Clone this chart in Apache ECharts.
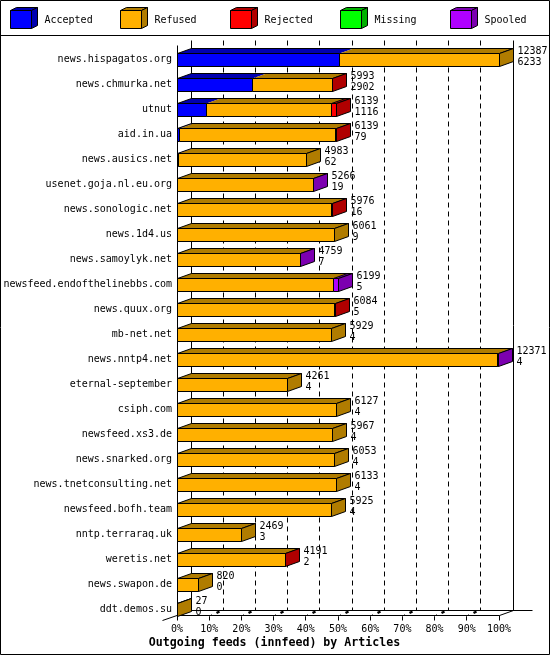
<!DOCTYPE html>
<html><head><meta charset="utf-8"><style>html,body{margin:0;padding:0;background:#fff}#c{width:550px;height:655px}</style>
<script src="https://cdn.jsdelivr.net/npm/echarts@6/dist/echarts.min.js"></script></head>
<body><div id="c"></div><script>
const categories=["news.hispagatos.org","news.chmurka.net","utnut","aid.in.ua","news.ausics.net","usenet.goja.nl.eu.org","news.sonologic.net","news.1d4.us","news.samoylyk.net","newsfeed.endofthelinebbs.com","news.quux.org","mb-net.net","news.nntp4.net","eternal-september","csiph.com","newsfeed.xs3.de","news.snarked.org","news.tnetconsulting.net","newsfeed.bofh.team","nntp.terraraq.uk","weretis.net","news.swapon.de","ddt.demos.su"];
const totals=[12387,5993,6139,6139,4983,5266,5976,6061,4759,6199,6084,5929,12371,4261,6127,5967,6053,6133,5925,2469,4191,820,27];
const accepted=[6233,2902,1116,79,62,19,16,9,7,5,5,4,4,4,4,4,4,4,4,3,2,0,0];
const refused=[6154,3061,4835,6020,4921,5232,5930,6052,4732,6013,6049,5925,12337,4257,6123,5963,6049,6129,5921,2466,4159,820,27];
const rejected=[0,30,188,40,0,0,30,0,0,0,30,0,0,0,0,0,0,0,0,0,30,0,0];
const missing=[0,0,0,0,0,0,0,0,0,0,0,0,0,0,0,0,0,0,0,0,0,0,0];
const spooled=[0,0,0,0,0,15,0,0,20,181,0,0,30,0,0,0,0,0,0,0,0,0,0];
const legendNames=["Accepted","Refused","Rejected","Missing","Spooled"];
const faceColors=["#0000ff","#ffb000","#ff0000","#00ff00","#b000ff"];
const shadeColors=["#0000b0","#b07c00","#b00000","#00b000","#7c00b0"];
const tickPercents=[0,10,20,30,40,50,60,70,80,90,100];
const titleText="Outgoing feeds (innfeed) by Articles";
const axisMax=12387;
const FONT='"DejaVu Sans Mono"',DX=14,DY=5,HALF=6;
const px=v=>Math.round(v-0.5)+0.5;
const line=(pts,extra)=>({type:'polyline',shape:{points:pts},style:Object.assign({stroke:'#000',lineWidth:1,fill:null},extra||{}),silent:true});
const poly=(pts,fill)=>({type:'polygon',shape:{points:pts},style:{fill:fill,stroke:'#000',lineWidth:1},silent:true});

const rows=categories.map((c,i)=>[i,accepted[i],refused[i],rejected[i],missing[i],spooled[i],totals[i]]);

function renderFrame(params,api){
  const p=api.value(0);
  const v=p/100*axisMax;
  const pt=api.coord([v,categories.length-1]);
  const x=px(pt[0]),yF=pt[1]+HALF,yB=yF-DY;
  const top=api.coord([0,0])[1]-HALF;
  const ch=[];
  if(p===0){
    ch.push(line([[x,top-8],[x,yF+5]]));
    ch.push(line([[x+DX,top-13],[x+DX,yB]]));
    ch.push(line([[x-15,yF+5],[x+DX,yB]]));
    ch.push(line([[x,yF],[px(api.coord([axisMax,0])[0]),yF]]));
    ch.push(line([[x+DX,yB],[x+355,yB]]));
  } else if(p===100){
    ch.push(line([[x,yF],[x,yF+5]]));
    ch.push(line([[x,yF],[x+DX,yB]]));
    ch.push(line([[x+DX,top-13],[x+DX,yB]]));
  } else {
    ch.push(line([[x+DX,top-13],[x+DX,yB]],{lineDash:[5,4]}));
    ch.push(line([[x,yF+5],[x,yF+1],[x+2,yF-1]]));
    ch.push(line([[x+7,yF-2.5],[x+10,yF-4]],{lineWidth:2.5}));
  }
  return {type:'group',children:ch};
}

function renderRow(params,api){
  const i=api.value(0);
  const c=api.coord([0,i]);
  const yT=c[1]-HALF,yBt=c[1]+HALF+1;
  const ch=[];
  let cum=0,last=1;
  const segs=[];
  for(let s=0;s<5;s++){
    const val=api.value(s+1);
    if(val>0){
      const a=px(api.coord([cum,i])[0]);
      cum+=val;
      const b=px(api.coord([cum,i])[0]);
      segs.push({a,b,s});
      last=s;
    }
  }
  const start=segs[0].a,e=segs[segs.length-1].b;
  segs.forEach(g=>{
    ch.push({type:'polygon',shape:{points:[[g.a,yT],[g.a+DX,yT-DY],[g.b+DX,yT-DY],[g.b,yT]]},style:{fill:shadeColors[g.s],stroke:null},silent:true});
  });
  ch.push(poly([[start,yT],[start+DX,yT-DY],[e+DX,yT-DY],[e,yT]],'transparent'));
  segs.slice(1).forEach(g=>{
    if(g.s>1&&g.b-g.a>=3) ch.push(line([[g.a,yT],[g.a+DX,yT-DY]]));
  });
  ch.push(poly([[e,yT],[e+DX,yT-DY],[e+DX,yBt-DY],[e,yBt]],shadeColors[last]));
  segs.forEach(g=>{
    ch.push({type:'rect',shape:{x:g.a,y:yT,width:g.b-g.a,height:yBt-yT},style:{fill:faceColors[g.s],stroke:'#000',lineWidth:1},silent:true});
  });
  const tx=e+DX+4;
  [[api.value(6),c[1]-8.5],[api.value(1),c[1]+3]].forEach(t=>{
    ch.push({type:'text',silent:true,z2:5,style:{text:String(t[0]),x:tx,y:t[1],font:'10px '+FONT,fill:'#000',verticalAlign:'middle',align:'left'}});
  });
  return {type:'group',children:ch};
}

const legendGraphics=[{type:'rect',shape:{x:0.5,y:0.5,width:549,height:654},style:{fill:null,stroke:'#000',lineWidth:1},silent:true,z:20},
 {type:'line',shape:{x1:0,y1:35.5,x2:550,y2:35.5},style:{stroke:'#000',lineWidth:1},silent:true,z:20}];
legendNames.forEach((n,k)=>{
  const x=10.5+110*k,y=10.5,w=21,h=18,dx=6,dy=3;
  legendGraphics.push({type:'polygon',shape:{points:[[x,y],[x+dx,y-dy],[x+w+dx,y-dy],[x+w,y]]},style:{fill:shadeColors[k],stroke:'#000',lineWidth:1},silent:true,z:20});
  legendGraphics.push({type:'polygon',shape:{points:[[x+w,y],[x+w+dx,y-dy],[x+w+dx,y+h-dy],[x+w,y+h]]},style:{fill:shadeColors[k],stroke:'#000',lineWidth:1},silent:true,z:20});
  legendGraphics.push({type:'rect',shape:{x:x,y:y,width:w,height:h},style:{fill:faceColors[k],stroke:'#000',lineWidth:1},silent:true,z:20});
  legendGraphics.push({type:'text',style:{text:n,x:44.5+110*k,y:20,font:'10px '+FONT,fill:'#000',verticalAlign:'middle',align:'left'},silent:true,z:20});
});

const chart=echarts.init(document.getElementById('c'),null,{renderer:'canvas',width:550,height:655});
chart.setOption({
  animation:false,
  backgroundColor:'#fff',
  title:{text:titleText,left:269.5,top:632,textAlign:'center',textStyle:{fontFamily:FONT,fontSize:11.6,fontWeight:'bold',color:'#000',lineHeight:12}},
  grid:{left:177,top:47,width:322,height:575,containLabel:false},
  xAxis:{type:'value',min:0,max:axisMax,interval:axisMax/10,
    axisLine:{show:false},axisTick:{show:false},splitLine:{show:false},
    axisLabel:{margin:2,fontFamily:FONT,fontSize:10,color:'#000',hideOverlap:false,showMinLabel:true,showMaxLabel:true,
      formatter:v=>Math.round(v/axisMax*100)+'%'}},
  yAxis:{type:'category',inverse:true,data:categories,
    axisLine:{show:false},axisTick:{show:false},splitLine:{show:false},
    axisLabel:{margin:5,interval:0,fontFamily:FONT,fontSize:10,color:'#000'}},
  series:[
    {type:'custom',name:'frame',clip:false,silent:true,encode:{x:0},data:tickPercents.map(p=>[p]),renderItem:renderFrame,z:1},
    {type:'custom',name:'feeds',clip:false,silent:true,encode:{y:0,x:6},data:rows,renderItem:renderRow,z:2}
  ],
  graphic:legendGraphics
});
</script></body></html>
